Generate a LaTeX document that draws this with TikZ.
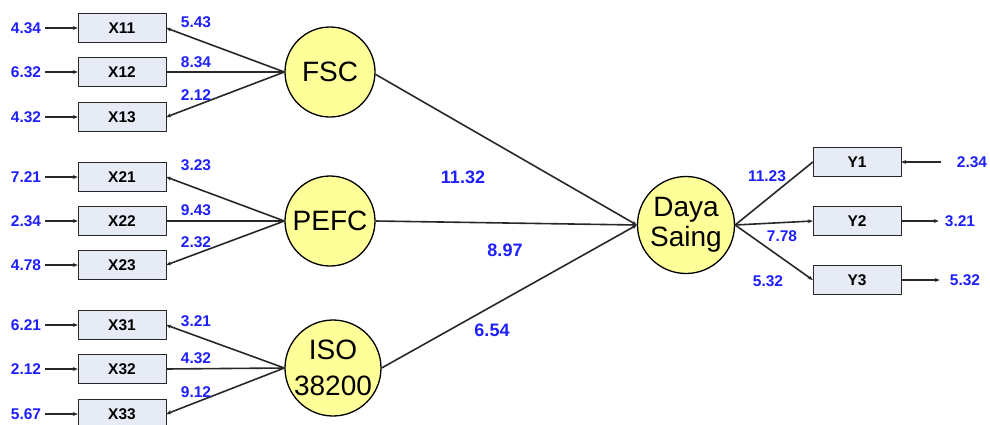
\documentclass[tikz,border=0pt]{standalone}
\usepackage{fontspec}
\setmainfont{Liberation Sans}
\usetikzlibrary{arrows.meta}
\definecolor{boxfill}{RGB}{231,235,246}
\definecolor{latfill}{RGB}{255,255,153}
\definecolor{valblue}{RGB}{30,30,255}
\definecolor{linegray}{RGB}{40,40,40}

\begin{document}
\begin{tikzpicture}[x=1pt,y=-1pt,
obs/.style={draw=linegray,fill=boxfill,minimum width=88pt,minimum height=29pt,inner sep=0pt,font=\bfseries\fontsize{15.5}{16}\selectfont},
lat/.style={circle,draw=black,line width=1.3pt,fill=latfill,minimum size=90pt,inner sep=0pt,align=center,font=\fontsize{28}{30}\selectfont},
val/.style={text=valblue,inner sep=4pt,font=\bfseries\fontsize{15.5}{16}\selectfont},
bigval/.style={text=valblue,font=\bfseries\fontsize{18}{18}\selectfont},
tobox/.style={draw=linegray,line width=1.6pt,-{Stealth[length=5pt,width=4pt]}},
tolat/.style={draw=linegray,line width=1.6pt,{Stealth[length=5pt,width=4pt]}-},
plain/.style={draw=linegray,line width=1.6pt}]
\useasboundingbox (0,0) rectangle (990,424);

% latent variables
\node[lat] (fsc) at (330,72) {FSC};
\node[lat] (pefc) at (330,221) {PEFC};
\node[lat,minimum size=96pt,font=\fontsize{28}{36}\selectfont] (iso) at (333,368) {ISO\\38200};
\node[lat,minimum size=97pt] (daya) at (686,225) {Daya\\Saing};

% indicators X
\foreach \n/\yy/\err/\ld/\ly/\c/\tip in {
  11/28/4.34/5.43/22/fsc/tobox, 12/72/6.32/8.34/62/fsc/tolat, 13/117/4.32/2.12/95/fsc/tobox,
  21/177/7.21/3.23/165/pefc/tobox, 22/221/2.34/9.43/210/pefc/tolat, 23/265/4.78/2.32/242/pefc/tobox,
  31/325/6.21/3.21/321/iso/tobox, 32/369/2.12/4.32/358/iso/tolat, 33/414/5.67/9.12/392/iso/tobox} {
    \node[obs] (x\n) at (122,\yy) {X\n};
    \node[val] (e\n) at (26,\yy) {\err};
    \draw[tobox] (e\n) -- (x\n);
    \draw[\tip] (\c.west) -- (x\n.east);
    \node[val] (l\n) at (196,\ly) {\ld};
}

% structural paths
\draw[tobox] (fsc.-3) -- (daya.west);
\draw[tobox] (pefc.east) -- (daya.west);
\draw[tobox] (iso.east) -- (daya.west);
\node[bigval] (p1) at (463,177) {11.32};
\node[bigval] (p2) at (505,250) {8.97};
\node[bigval] (p3) at (492,330) {6.54};

% indicators Y
\node[obs] (y1) at (857,162) {Y1};
\node[obs] (y2) at (857,221) {Y2};
\node[obs] (y3) at (857,280) {Y3};
\draw[plain] (daya.east) -- (y1.west);
\draw[tobox] (daya.east) -- (y2.west);
\draw[tobox] (daya.east) -- (y3.west);
\node[val] (ly1) at (767,176) {11.23};
\node[val] (ly2) at (782,236) {7.78};
\node[val] (ly3) at (768,281) {5.32};

\node[val,inner sep=0pt] (ey1) at (972,162) {2.34};
\node[val,inner sep=0pt] (ey2) at (960,221) {3.21};
\node[val,inner sep=0pt] (ey3) at (965,280) {5.32};
\draw[tobox] ([xshift=-16pt]ey1.west) -- (y1.east);
\draw[tobox] (y2.east) -- ([xshift=-6pt]ey2.west);
\draw[tobox] (y3.east) -- ([xshift=-10pt]ey3.west);
\end{tikzpicture}
\end{document}
